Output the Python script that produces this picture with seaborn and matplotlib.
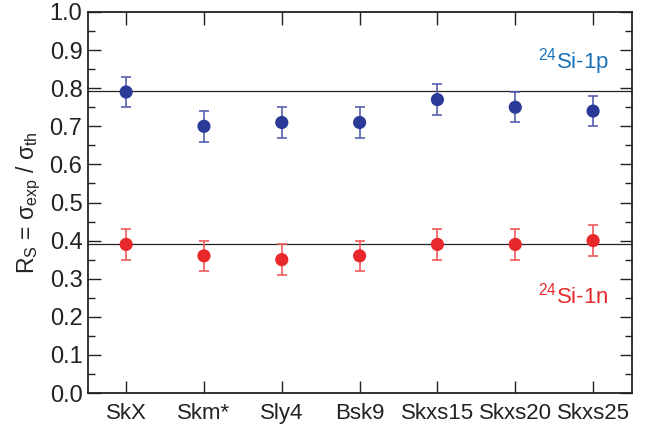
import matplotlib
matplotlib.use("Agg")
import matplotlib.pyplot as plt
import seaborn as sns
import numpy as np
import pandas as pd
from matplotlib.ticker import MultipleLocator

categories = ["SkX", "Skm*", "Sly4", "Bsk9", "Skxs15", "Skxs20", "Skxs25"]
p_values = [0.79, 0.70, 0.71, 0.71, 0.77, 0.75, 0.74]
p_errors = [0.04, 0.04, 0.04, 0.04, 0.04, 0.04, 0.04]
n_values = [0.39, 0.36, 0.35, 0.36, 0.39, 0.39, 0.40]
n_errors = [0.04, 0.04, 0.04, 0.04, 0.04, 0.04, 0.04]
p_mean = 0.792
n_mean = 0.391
yticks = [0.0, 0.1, 0.2, 0.3, 0.4, 0.5, 0.6, 0.7, 0.8, 0.9, 1.0]

sns.set_theme(style="ticks")
plt.rcParams['font.family'] = ['Liberation Sans', 'DejaVu Sans']
plt.rcParams['mathtext.fontset'] = 'custom'
plt.rcParams['mathtext.rm'] = 'Liberation Sans'
plt.rcParams['mathtext.it'] = 'Liberation Sans'

pos = np.arange(len(categories))
df = pd.DataFrame({"x": np.concatenate([pos, pos]),
                   "y": p_values + n_values,
                   "series": ["p"] * len(pos) + ["n"] * len(pos)})

blue = "#2b3a96"
blue_err = "#5560b0"
red = "#e8292c"
red_err = "#ee5a5c"

fig = plt.figure(figsize=(6.53, 4.29), dpi=100)
ax = fig.add_axes([88/653, 36/429, 544/653, 381/429])

ax.axhline(p_mean, color="#222222", lw=0.9, zorder=1)
ax.axhline(n_mean, color="#222222", lw=0.9, zorder=1)

ax.errorbar(pos, p_values, yerr=p_errors, fmt="none", ecolor=blue_err,
            elinewidth=1.2, capsize=3.5, capthick=1.2, zorder=2)
ax.errorbar(pos, n_values, yerr=n_errors, fmt="none", ecolor=red_err,
            elinewidth=1.2, capsize=3.5, capthick=1.2, zorder=2)

sns.scatterplot(data=df, x="x", y="y", hue="series",
                palette={"p": blue, "n": red}, s=90, edgecolor="none",
                legend=False, ax=ax, zorder=3)

ax.set_xlim(-0.49, len(categories) - 1 + 0.5)
ax.set_ylim(0, 1.0)
ax.set_xticks(pos)
ax.set_xticklabels(categories)
ax.set_yticks(yticks)
ax.set_yticklabels([f"{v:.1f}" for v in yticks])
ax.yaxis.set_minor_locator(MultipleLocator(0.05))
ax.set_xlabel("")
ax.set_ylabel(r"R$_\mathrm{S}$ = σ$_\mathrm{exp}$ / σ$_\mathrm{th}$", fontsize=16.5, color="#222222", labelpad=5)

ax.tick_params(axis="both", which="both", direction="in", top=True, right=True,
               colors="#222222", labelcolor="#222222")
ax.tick_params(axis="x", which="major", length=9, width=1, labelsize=16, pad=7)
ax.tick_params(axis="y", which="major", length=9, width=1, labelsize=17, pad=4)
ax.tick_params(axis="y", which="minor", length=5, width=1)
for sp in ax.spines.values():
    sp.set_linewidth(1.3)
    sp.set_color("#222222")

ax.text(6.2, 0.87, r"$^{24}$Si-1p", color="#1b72b8", fontsize=16, ha="right", va="center")
ax.text(6.2, 0.257, r"$^{24}$Si-1n", color="#e8292c", fontsize=16, ha="right", va="center")

fig.savefig("out.png", dpi=100)
